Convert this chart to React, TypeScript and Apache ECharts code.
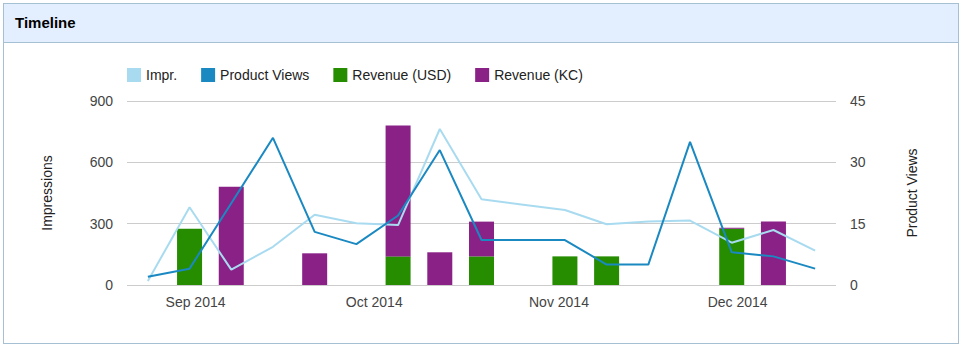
import React, { useEffect, useRef } from "react";
import * as echarts from "echarts";

const weeks = [
  "2014-08-24", "2014-08-31", "2014-09-07", "2014-09-14", "2014-09-21", "2014-09-28",
  "2014-10-05", "2014-10-12", "2014-10-19", "2014-10-26", "2014-11-02", "2014-11-09",
  "2014-11-16", "2014-11-23", "2014-11-30", "2014-12-07", "2014-12-14",
];
const impressions = [20, 380, 75, 187, 344, 302, 293, 763, 419, 393, 367, 297, 310, 315, 207, 269, 168];
const productViews = [2, 4, 20, 36, 13, 10, 17, 33, 11, 11, 11, 5, 5, 35, 8, 7, 4];
const revenueUSD = [0, 275, 0, 0, 0, 0, 140, 0, 140, 0, 140, 140, 0, 0, 275, 0, 0];
const revenueKC = [0, 0, 480, 0, 155, 0, 640, 160, 170, 0, 0, 0, 0, 0, 5, 310, 0];
const leftTicks = { min: 0, max: 900, interval: 300 };
const rightTicks = { min: 0, max: 45, interval: 15 };

const FONT = 'Arial, "Liberation Sans", sans-serif';
const DAY = 86400000;

function parseDay(s: string) {
  const [y, m, d] = s.split("-").map(Number);
  return new Date(y, m - 1, d).getTime();
}

export default function App() {
  const ref = useRef<HTMLDivElement>(null);
  useEffect(() => {
    document.body.style.margin = "0";
    const chart = echarts.init(ref.current!, undefined, { renderer: "svg" });
    const ts = weeks.map(parseDay);
    chart.setOption({
      animation: false,
      textStyle: { fontFamily: FONT },
      legend: {
        data: ["Impr.", "Product Views", "Revenue (USD)", "Revenue (KC)"],
        left: 122,
        top: 63,
        icon: "rect",
        itemWidth: 14,
        itemHeight: 14,
        itemGap: 24,
        textStyle: { fontSize: 14, color: "#222", fontFamily: FONT },
      },
      grid: { left: 127, right: 125, top: 101, height: 184, containLabel: false },
      xAxis: [
        {
          type: "category",
          data: weeks,
          boundaryGap: true,
          axisLine: { show: false },
          axisTick: { show: false },
          axisLabel: { show: false },
          splitLine: { show: false },
        },
        {
          type: "time",
          position: "bottom",
          min: ts[0] - 3.5 * DAY,
          max: ts[ts.length - 1] + 3.5 * DAY,
          minInterval: 28 * DAY,
          maxInterval: 31 * DAY,
          splitNumber: 4,
          axisLine: { show: false },
          axisTick: { show: false },
          splitLine: { show: false },
          axisLabel: {
            formatter: "{MMM} {yyyy}",
            color: "#444",
            fontSize: 14,
            fontFamily: FONT,
            margin: 10,
            showMinLabel: false,
            showMaxLabel: false,
          },
        },
      ],
      yAxis: [
        {
          type: "value",
          ...leftTicks,
          name: "Impressions",
          nameLocation: "middle",
          nameRotate: 90,
          nameGap: 73,
          nameTextStyle: { fontSize: 14, color: "#222", fontFamily: FONT },
          axisLine: { show: false },
          axisTick: { show: false },
          axisLabel: { color: "#444", fontSize: 14, margin: 14, fontFamily: FONT },
          splitLine: { lineStyle: { color: "#ccc", width: 1 } },
        },
        {
          type: "value",
          ...rightTicks,
          position: "right",
          name: "Product Views",
          nameLocation: "middle",
          nameRotate: 90,
          nameGap: 69,
          nameTextStyle: { fontSize: 14, color: "#222", fontFamily: FONT },
          axisLine: { show: false },
          axisTick: { show: false },
          axisLabel: { color: "#444", fontSize: 14, margin: 14, fontFamily: FONT },
          splitLine: { show: false },
        },
      ],
      series: [
        {
          name: "Revenue (USD)",
          type: "bar",
          stack: "rev",
          xAxisIndex: 0,
          yAxisIndex: 0,
          barWidth: 25,
          data: revenueUSD,
          itemStyle: { color: "#268c00" },
          z: 2,
        },
        {
          name: "Revenue (KC)",
          type: "bar",
          stack: "rev",
          xAxisIndex: 0,
          yAxisIndex: 0,
          barWidth: 25,
          data: revenueKC,
          itemStyle: { color: "#8a2186" },
          z: 2,
        },
        {
          name: "Impr.",
          type: "line",
          xAxisIndex: 0,
          yAxisIndex: 0,
          data: impressions,
          showSymbol: false,
          symbol: "none",
          lineStyle: { color: "#a9dbf0", width: 2 },
          itemStyle: { color: "#a9dbf0" },
          z: 3,
        },
        {
          name: "Product Views",
          type: "line",
          xAxisIndex: 0,
          yAxisIndex: 1,
          data: productViews,
          showSymbol: false,
          symbol: "none",
          lineStyle: { color: "#1a89c2", width: 2 },
          itemStyle: { color: "#1a89c2" },
          z: 4,
        },
      ],
    });
    return () => chart.dispose();
  }, []);

  return (
    <div style={{ position: "absolute", left: 0, top: 0, width: 961, height: 347, background: "#fff" }}>
      <div
        style={{
          position: "absolute",
          left: 3,
          top: 3,
          width: 954,
          height: 339,
          border: "1px solid #a5c0d3",
          background: "#fff",
        }}
      >
        <div
          style={{
            height: 38,
            background: "#e3efff",
            borderBottom: "1px solid #a5c0d3",
            fontFamily: FONT,
            fontWeight: "bold",
            fontSize: 15,
            color: "#000",
            lineHeight: "38px",
            paddingLeft: 11,
          }}
        >
          Timeline
        </div>
      </div>
      <div ref={ref} style={{ position: "absolute", left: 0, top: 0, width: 961, height: 347 }} />
    </div>
  );
}
